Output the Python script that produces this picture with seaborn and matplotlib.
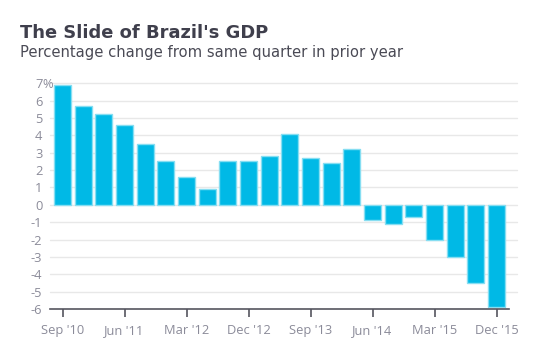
import matplotlib
matplotlib.use("Agg")
import matplotlib.pyplot as plt
import matplotlib.transforms as mtransforms
import seaborn as sns
import pandas as pd

quarters = ["Sep '10", "Dec '10", "Mar '11", "Jun '11", "Sep '11", "Dec '11",
            "Mar '12", "Jun '12", "Sep '12", "Dec '12", "Mar '13", "Jun '13",
            "Sep '13", "Dec '13", "Mar '14", "Jun '14", "Sep '14", "Dec '14",
            "Mar '15", "Jun '15", "Sep '15", "Dec '15"]
growth = [6.9, 5.7, 5.2, 4.6, 3.5, 2.5, 1.6, 0.9, 2.5, 2.5, 2.8, 4.1,
          2.7, 2.4, 3.2, -0.9, -1.1, -0.7, -2.0, -3.0, -4.5, -5.9]
yticks = [-6, -5, -4, -3, -2, -1, 0, 1, 2, 3, 4, 5, 6, 7]
ytick_labels = ["-6", "-5", "-4", "-3", "-2", "-1", "0", "1", "2", "3", "4", "5", "6", "7"]
unit_suffix = "%"
shown_xticks = ["Sep '10", "Jun '11", "Mar '12", "Dec '12", "Sep '13", "Jun '14", "Mar '15", "Dec '15"]

df = pd.DataFrame({"quarter": quarters, "growth": growth})

sns.set_theme(style="white")
plt.rcParams["font.family"] = ["Open Sans", "DejaVu Sans"]

fig = plt.figure(figsize=(5.57, 3.62), dpi=100)
ax = fig.add_axes([50/557, 1-309/362, 459/557, (309-81.5)/362])

grid_c = "#e8e8e8"
for v in yticks:
    if v == yticks[0]:
        continue
    ax.axhline(v, xmin=0, xmax=1.017, color=grid_c, lw=1, zorder=0, clip_on=False)

sns.barplot(data=df, x="quarter", y="growth", color="#00b9e6", saturation=1,
            width=0.82, edgecolor="#86def2", linewidth=1, ax=ax, zorder=2)

ax.set_xlim(-0.61, 21.6)
ax.set_ylim(-6, 7.1)
ax.set_xlabel("")
ax.set_ylabel("")

txt_c = "#8b8b99"
ax.set_yticks(yticks)
ax.set_yticklabels(ytick_labels)
pos = [quarters.index(q) for q in shown_xticks]
ax.set_xticks(pos)
ax.set_xticklabels(shown_xticks)

for s in ["top", "right", "left"]:
    ax.spines[s].set_visible(False)
ax.spines["bottom"].set_color("#55555f")
ax.spines["bottom"].set_linewidth(1.2)

ax.tick_params(axis="y", length=0, labelsize=9.3, labelcolor=txt_c, pad=5.5)
ax.tick_params(axis="x", length=6, width=1.2, color="#55555f", labelsize=9.3,
               labelcolor=txt_c, pad=5, bottom=True)

# percent sign hanging after the top tick label
trans = mtransforms.blended_transform_factory(ax.transAxes, ax.transData)
trans = trans + mtransforms.ScaledTranslation(-7.8/100, 0, fig.dpi_scale_trans)
ax.text(0, yticks[-1], unit_suffix, transform=trans, ha="left", va="center_baseline",
        fontsize=9.3, color=txt_c)

fig.text(20/557, 1-37.5/362, "The Slide of Brazil's GDP", fontsize=12.9,
         fontweight="bold", color="#3f3f4c", ha="left", va="baseline",
         family=["DejaVu Sans"])
fig.text(20/557, 1-56.5/362, "Percentage change from same quarter in prior year",
         fontsize=10.6, color="#4a4a55", ha="left", va="baseline",
         family=["DejaVu Sans"])

fig.savefig("out.png", dpi=100)
